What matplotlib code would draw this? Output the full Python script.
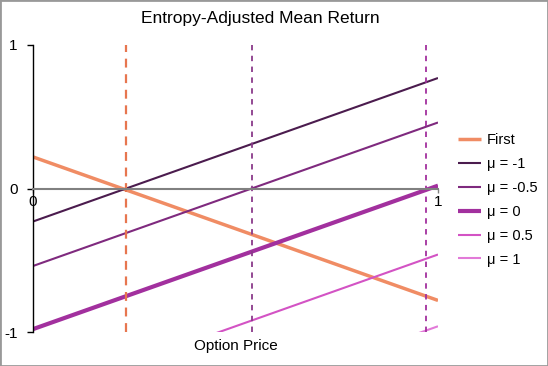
import matplotlib
matplotlib.use("Agg")
import matplotlib.pyplot as plt
from matplotlib.patches import Rectangle

plt.rcParams['font.family'] = ['Liberation Sans', 'DejaVu Sans']

# Data: line endpoints at option price 0 and 1
x_ends = [0.0, 1.0]
series_names = ["First", "μ = -1", "μ = -0.5", "μ = 0", "μ = 0.5", "μ = 1"]
first_vals = [0.22, -0.78]
mu_m1_vals = [-0.23, 0.77]
mu_m05_vals = [-0.54, 0.46]
mu_0_vals = [-0.98, 0.02]
mu_05_vals = [-1.46, -0.46]
mu_1_vals = [-1.96, -0.96]
# Zero-crossing markers (dashed verticals)
cross_x = [0.23, 0.54, 0.97]

colors = ["#F08C64", "#4B1C4E", "#7F2A7E", "#A2309E", "#D353C4", "#E27AD8"]
widths = [2.5, 1.5, 1.5, 3.0, 1.5, 1.5]
vcolors = ["#E7764F", "#8A3A8A", "#A2309E"]
vwidths = [1.6, 1.3, 1.3]
vdash = [(4, 3), (3, 3), (3, 3)]

fig = plt.figure(figsize=(5.48, 3.66), dpi=100)
ax = fig.add_axes([33/548, 1 - 332/366, (438 - 33)/548, (332 - 45)/366])

all_vals = [first_vals, mu_m1_vals, mu_m05_vals, mu_0_vals, mu_05_vals, mu_1_vals]
for name, vals, c, w in zip(series_names, all_vals, colors, widths):
    ax.plot(x_ends, vals, color=c, lw=w, label=name, solid_capstyle='butt')

for xv, c, w, d in zip(cross_x, vcolors, vwidths, vdash):
    ax.axvline(xv, color=c, lw=w, linestyle=(0, d))

ax.set_xlim(0, 1)
ax.set_ylim(-1, 1)
ax.spines['top'].set_visible(False)
ax.spines['right'].set_visible(False)
ax.spines['bottom'].set_position(('data', 0))
ax.spines['bottom'].set_color('#808080')
ax.spines['bottom'].set_linewidth(1.5)
ax.spines['left'].set_linewidth(1.0)
ax.set_xticks([0, 1])
ax.set_xticklabels(["0", "1"])
ax.set_yticks([-1, 0, 1])
ax.set_yticklabels(["-1", "0", "1"])
ax.tick_params(axis='x', length=3, width=1, color='#808080', labelsize=11, pad=2)
ax.tick_params(axis='y', length=4, width=1, labelsize=11, pad=7)
ax.patch.set_alpha(0)

fig.text(260/548, 1 - 19/366, "Entropy-Adjusted Mean Return", ha='center', va='center', fontsize=12.5)
ax.text(0.5, -0.05, "Option Price", transform=ax.transAxes, ha='center', va='center', fontsize=11)

leg = fig.legend(*ax.get_legend_handles_labels(), loc='upper left',
                 bbox_to_anchor=(458/548, 1 - 133/366), bbox_transform=fig.transFigure,
                 frameon=False, fontsize=10.5, handlelength=1.55, labelspacing=0.68,
                 handletextpad=0.45, borderpad=0, borderaxespad=0)

fig.add_artist(Rectangle((0, 0), 1, 1, transform=fig.transFigure, fill=False,
                         edgecolor='#999999', lw=2.0))

fig.savefig("out.png", dpi=100)
